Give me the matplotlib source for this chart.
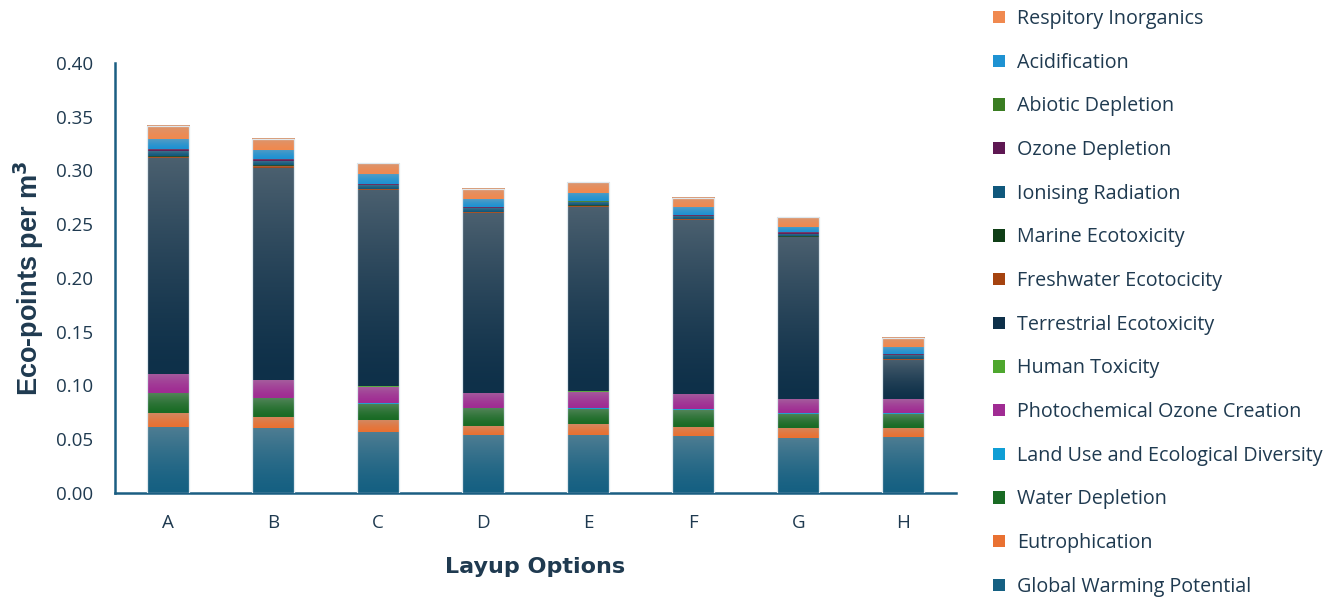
import numpy as np
import matplotlib
matplotlib.use("Agg")
import matplotlib.pyplot as plt
import matplotlib.colors as mcolors
from matplotlib.patches import Patch, Rectangle

# Layup options on the x axis
layups = ["A", "B", "C", "D", "E", "F", "G", "H"]

# Impact categories, stacked from the bottom up (eco-points per m3)
global_warming = [0.0617, 0.0605, 0.0570, 0.0543, 0.0543, 0.0533, 0.0508, 0.0524]
eutrophication = [0.0129, 0.0105, 0.0106, 0.0083, 0.0096, 0.0084, 0.0097, 0.0084]
water_depletion = [0.0181, 0.0174, 0.0155, 0.0161, 0.0145, 0.0158, 0.0133, 0.0130]
land_use = [0.0003, 0.0003, 0.0003, 0.0003, 0.0010, 0.0003, 0.0003, 0.0003]
photochemical = [0.0177, 0.0161, 0.0155, 0.0140, 0.0149, 0.0140, 0.0130, 0.0130]
human_toxicity = [0.0002, 0.0002, 0.0002, 0.0002, 0.0002, 0.0002, 0.0002, 0.0002]
terrestrial = [0.2011, 0.1976, 0.1828, 0.1673, 0.1719, 0.1620, 0.1505, 0.0364]
freshwater = [0.0005, 0.0016, 0.0005, 0.0005, 0.0005, 0.0005, 0.0005, 0.0005]
marine = [0.0005, 0.0005, 0.0005, 0.0005, 0.0005, 0.0005, 0.0005, 0.0005]
ionising = [0.0050, 0.0040, 0.0040, 0.0040, 0.0030, 0.0030, 0.0020, 0.0040]
ozone_depletion = [0.0018, 0.0016, 0.0005, 0.0005, 0.0005, 0.0005, 0.0015, 0.0005]
abiotic = [0.0003, 0.0003, 0.0003, 0.0003, 0.0003, 0.0003, 0.0003, 0.0003]
acidification = [0.0092, 0.0084, 0.0090, 0.0072, 0.0082, 0.0069, 0.0051, 0.0060]
respiratory = [0.0121, 0.0103, 0.0100, 0.0095, 0.0096, 0.0090, 0.0093, 0.0084]

series = [
    ("Global Warming Potential", global_warming, "#156082"),
    ("Eutrophication", eutrophication, "#E97132"),
    ("Water Depletion", water_depletion, "#196B24"),
    ("Land Use and Ecological Diversity", land_use, "#0F9ED5"),
    ("Photochemical Ozone Creation", photochemical, "#A02B93"),
    ("Human Toxicity", human_toxicity, "#4EA72E"),
    ("Terrestrial Ecotoxicity", terrestrial, "#0E3049"),
    ("Freshwater Ecotocicity", freshwater, "#A5430F"),
    ("Marine Ecotoxicity", marine, "#0F3E16"),
    ("Ionising Radiation", ionising, "#10587C"),
    ("Ozone Depletion", ozone_depletion, "#5E1752"),
    ("Abiotic Depletion", abiotic, "#3A7D22"),
    ("Acidification", acidification, "#1E92D2"),
    ("Respitory Inorganics", respiratory, "#F0894F"),
]

text_color = "#1F3A50"
axis_color = "#1B5E82"

fig = plt.figure(figsize=(13.44, 6.04), dpi=100)
ax = fig.add_axes([0.0856, 0.1838, 0.6257, 0.7120])

x = np.arange(len(layups))
bar_w = 0.4
bottom = np.zeros(len(layups))
handles = []


def shade_patch(patch, color):
    """Overlay a soft vertical gradient (lighter toward the top) on a bar segment."""
    x0, y0 = patch.get_x(), patch.get_y()
    w, h = patch.get_width(), patch.get_height()
    if h <= 0:
        return
    base = np.array(mcolors.to_rgb(color))
    haze = np.array([0.68, 0.68, 0.68])
    t = np.linspace(0, 1, 64)[:, None]          # 0 at bottom, 1 at top
    mix = 0.38 * t ** 1.4
    rgb = base[None, :] * (1 - mix) + haze[None, :] * mix
    img = rgb[:, None, :]
    ax.imshow(img, extent=(x0, x0 + w, y0, y0 + h), origin="lower",
              aspect="auto", interpolation="bilinear", zorder=2.1)


for name, vals, col in series:
    vals = np.asarray(vals)
    bars = ax.bar(x, vals, width=bar_w, bottom=bottom, color=col,
                  linewidth=0, zorder=2)
    for p in bars.patches:
        shade_patch(p, col)
    handles.append(Patch(facecolor=col, edgecolor="none", label=name))
    bottom = bottom + vals

# faint light outline around each stacked column
for xi, tot in zip(x, bottom):
    ax.add_patch(Rectangle((xi - bar_w / 2, 0), bar_w, tot, fill=False,
                           edgecolor="#dfe8ee", linewidth=0.9, zorder=3))

ax.set_xlim(-0.5, len(layups) - 0.5)
ax.set_ylim(0, 0.40)
ax.set_yticks(np.arange(0, 0.401, 0.05))
ax.set_yticklabels([f"{v:.2f}" for v in np.arange(0, 0.401, 0.05)])
ax.set_xticks(x)
ax.set_xticklabels(layups)

for s in ["top", "right"]:
    ax.spines[s].set_visible(False)
for s in ["left", "bottom"]:
    ax.spines[s].set_color(axis_color)
    ax.spines[s].set_linewidth(1.8)

ax.tick_params(axis="y", length=0, pad=16, labelsize=13.5, labelcolor=text_color)
ax.tick_params(axis="x", length=0, pad=15, labelsize=13.5, labelcolor=text_color)
for lab in ax.get_xticklabels() + ax.get_yticklabels():
    lab.set_fontfamily("Open Sans")

ax.set_ylabel("Eco-points per m$^{\\mathbf{3}}$", fontsize=19.5, fontweight="bold",
              color=text_color, family="Liberation Sans", labelpad=7)
ax.set_xlabel("Layup Options", fontsize=16, fontweight="bold",
              color=text_color, family="DejaVu Sans", labelpad=18)

leg = fig.legend(handles=handles[::-1], loc="upper left",
                 bbox_to_anchor=(0.739, 0.985), frameon=False,
                 prop={"family": "Open Sans", "size": 14.2},
                 labelcolor=text_color, handlelength=0.6, handleheight=0.6,
                 handletextpad=0.6, labelspacing=1.20, borderpad=0,
                 borderaxespad=0)

fig.savefig("out.png", dpi=100)
